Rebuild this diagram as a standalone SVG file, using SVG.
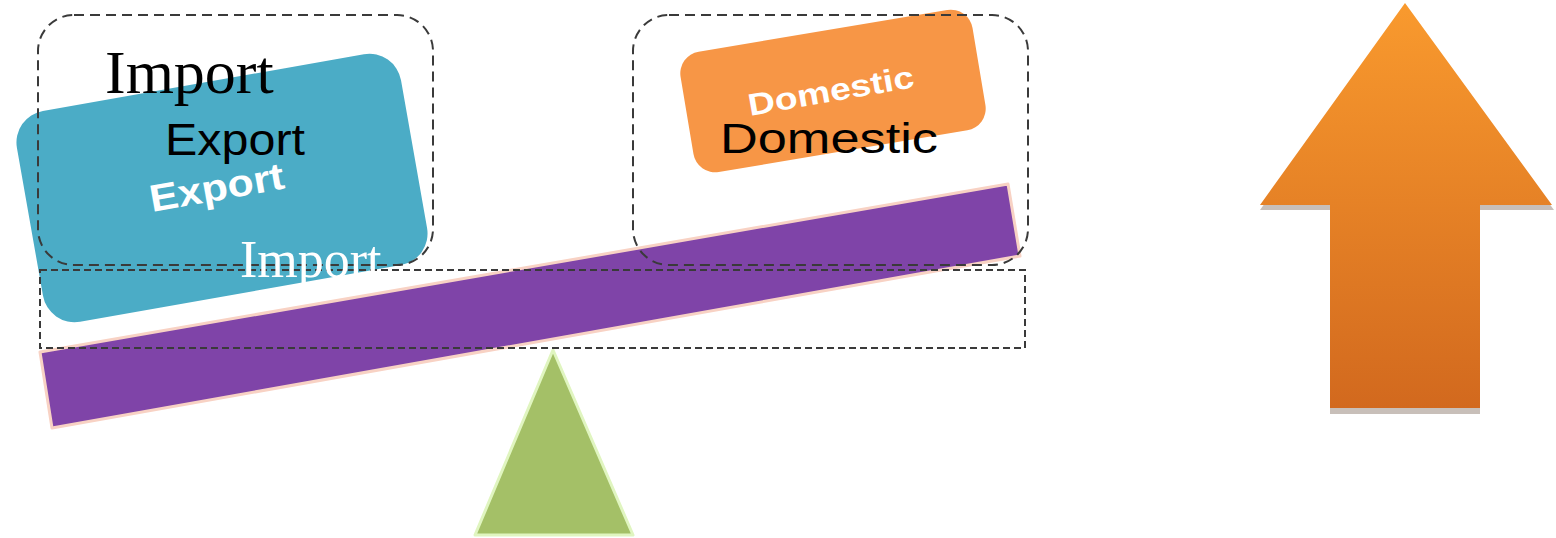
<svg xmlns="http://www.w3.org/2000/svg" width="1556" height="538" viewBox="0 0 1556 538">
<defs>
<linearGradient id="arrowGrad" x1="0" y1="0" x2="0" y2="1">
<stop offset="0" stop-color="#f99a2e"/>
<stop offset="1" stop-color="#d2691e"/>
</linearGradient>
</defs>
<style>
.dashbox{fill:none;stroke:#3a3a3a;stroke-width:2;stroke-dasharray:10 6}
.dashrect{fill:none;stroke:#3a3a3a;stroke-width:2;stroke-dasharray:7 4}
.serif{font-family:"Liberation Serif","Times New Roman",serif}
.sans{font-family:"Liberation Sans",Arial,sans-serif}
</style>
<rect width="1556" height="538" fill="#fff"/>

<g id="fulcrum">
<polygon points="553,350 633,535 475,535" fill="#a4c067" stroke="#e0f5c0" stroke-width="3" stroke-linejoin="round"/>
</g>

<g id="export-block">
<rect x="-195" y="-107" width="390" height="214" rx="32" fill="#4bacc6" transform="translate(222,188) rotate(-10)"/>
</g>

<g id="domestic-block">
<rect x="-148" y="-61" width="296" height="122" rx="22" fill="#f79646" transform="translate(833,91) rotate(-9.5)"/>
</g>

<g id="beam">
<polygon points="40,352 1008,184 1020,256 52,428" fill="#7f44a8" stroke="#f8d2c4" stroke-width="3" stroke-linejoin="round"/>
</g>

<g id="frames">
<rect class="dashbox" x="38" y="15" width="395" height="250" rx="36"/>
<rect class="dashbox" x="633" y="15" width="395" height="250" rx="36"/>
<rect class="dashrect" x="40" y="270" width="985" height="78"/>
</g>

<g id="arrow-up">
<polygon points="1405,7 1554,210 1480,210 1480,414 1330,414 1330,210 1260,210" fill="#9a8a80" opacity="0.55"/>
<polygon points="1405,3 1552,205 1480,205 1480,408 1330,408 1330,205 1260,205" fill="url(#arrowGrad)"/>
</g>

<g id="labels">
<text class="serif" x="105" y="93" font-size="62" fill="#000">Import</text>
<text class="sans" x="165" y="155" font-size="44" fill="#000" textLength="140" lengthAdjust="spacingAndGlyphs">Export</text>
<text class="sans" x="152" y="212" font-size="38" font-weight="bold" fill="#fff" textLength="136" lengthAdjust="spacingAndGlyphs" transform="rotate(-10 152 212)">Export</text>
<text class="serif" x="240" y="277" font-size="52" fill="#fff">Import</text>
<text class="sans" x="720" y="153" font-size="42" fill="#000" textLength="218" lengthAdjust="spacingAndGlyphs">Domestic</text>
<text class="sans" x="750" y="116" font-size="31" font-weight="bold" fill="#fff" textLength="168" lengthAdjust="spacingAndGlyphs" transform="rotate(-10 750 116)">Domestic</text>
</g>
</svg>
